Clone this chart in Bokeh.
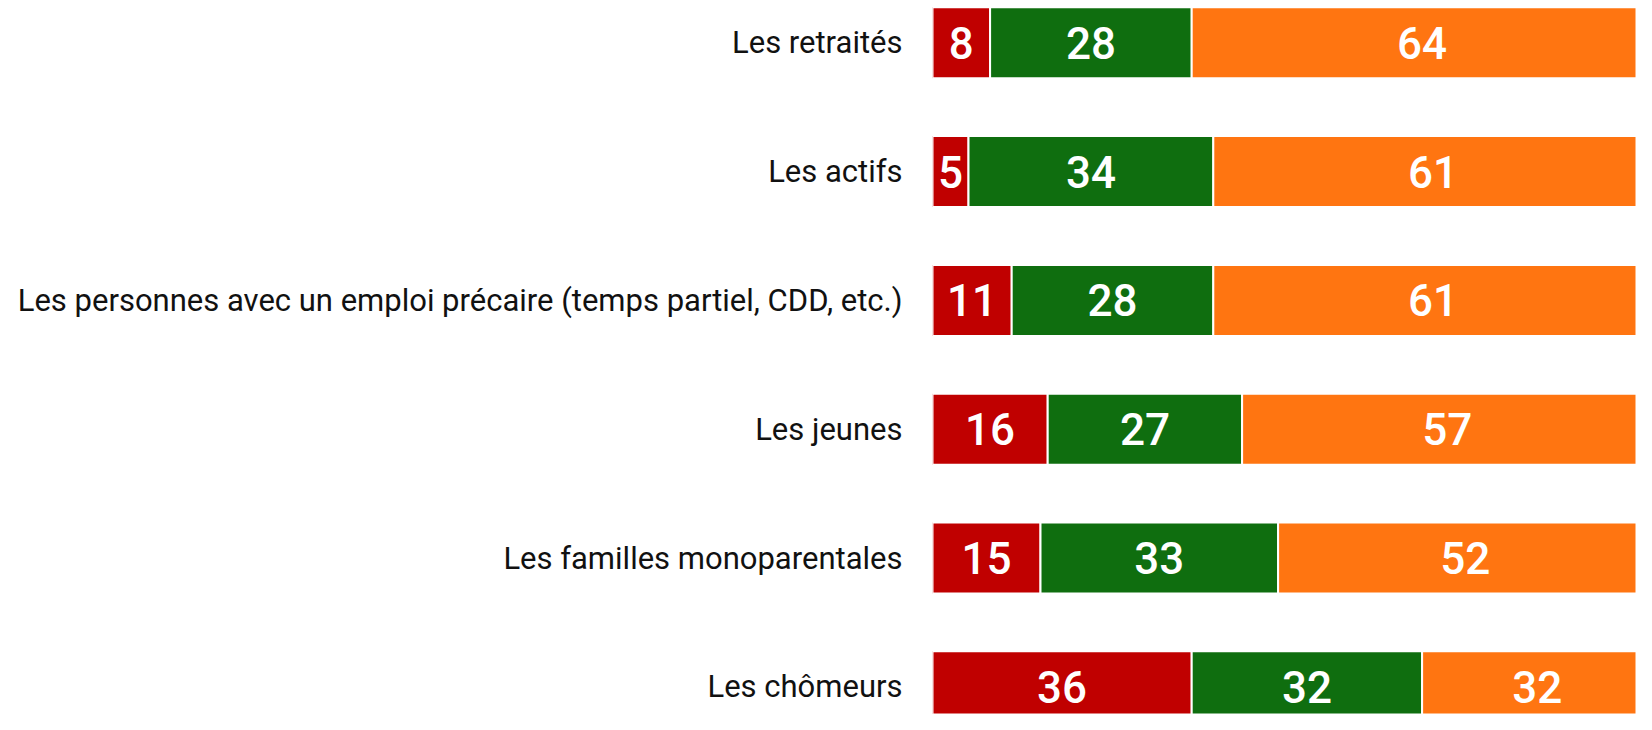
from bokeh.plotting import figure
from bokeh.models import ColumnDataSource, Range1d, FixedTicker
from bokeh.core.properties import value
from bokeh.embed import file_html
from bokeh.resources import INLINE

categories = [
    "Les retraités",
    "Les actifs",
    "Les personnes avec un emploi précaire (temps partiel, CDD, etc.)",
    "Les jeunes",
    "Les familles monoparentales",
    "Les chômeurs",
]
red_vals = [8, 5, 11, 16, 15, 36]
green_vals = [28, 34, 28, 27, 33, 32]
orange_vals = [64, 61, 61, 57, 52, 32]

series = [
    (red_vals, "#C00000"),
    (green_vals, "#0F6E0F"),
    (orange_vals, "#FF7511"),
]

W, H = 1636, 714
left_border = 932
px_per_unit = 7.2
x_end = (W - left_border) / px_per_unit

step = 128.8
c0 = 42.3
y_top = -c0 / step
y_bot = (H - c0) / step

p = figure(width=W, height=H, output_backend="svg", toolbar_location=None,
           x_range=Range1d(0, x_end), y_range=Range1d(y_bot, y_top),
           min_border_left=left_border, min_border_right=0,
           min_border_top=0, min_border_bottom=0)

ys = list(range(len(categories)))
cum = [0] * len(categories)
for vals, col in series:
    lefts = cum[:]
    rights = [a + b for a, b in zip(cum, vals)]
    mids = [(a + b) / 2 for a, b in zip(lefts, rights)]
    src = ColumnDataSource(dict(y=ys, left=lefts, right=rights, mid=mids,
                                lab=[str(v) for v in vals]))
    p.hbar(y="y", left="left", right="right", height=71 / step, source=src,
           fill_color=col, line_color="white", line_width=2)
    p.text(x="mid", y="y", text="lab", source=src, text_color="white",
           text_font=value("Roboto Medium, Roboto"), text_font_size="44px",
           text_font_style="normal",
           text_align="center", text_baseline="middle")
    cum = rights

p.xaxis.visible = False
p.xgrid.visible = False
p.ygrid.visible = False
p.outline_line_color = None

ya = p.yaxis[0]
ya.ticker = FixedTicker(ticks=ys)
ya.major_label_overrides = {i: c for i, c in enumerate(categories)}
ya.axis_line_color = None
ya.major_tick_line_color = None
ya.minor_tick_line_color = None
ya.major_tick_out = 0
ya.major_tick_in = 0
ya.major_label_standoff = 30
ya.major_label_text_font = "Roboto"
ya.major_label_text_font_size = "31px"
ya.major_label_text_color = "#111111"

open("out.html", "w").write(file_html(p, INLINE))
